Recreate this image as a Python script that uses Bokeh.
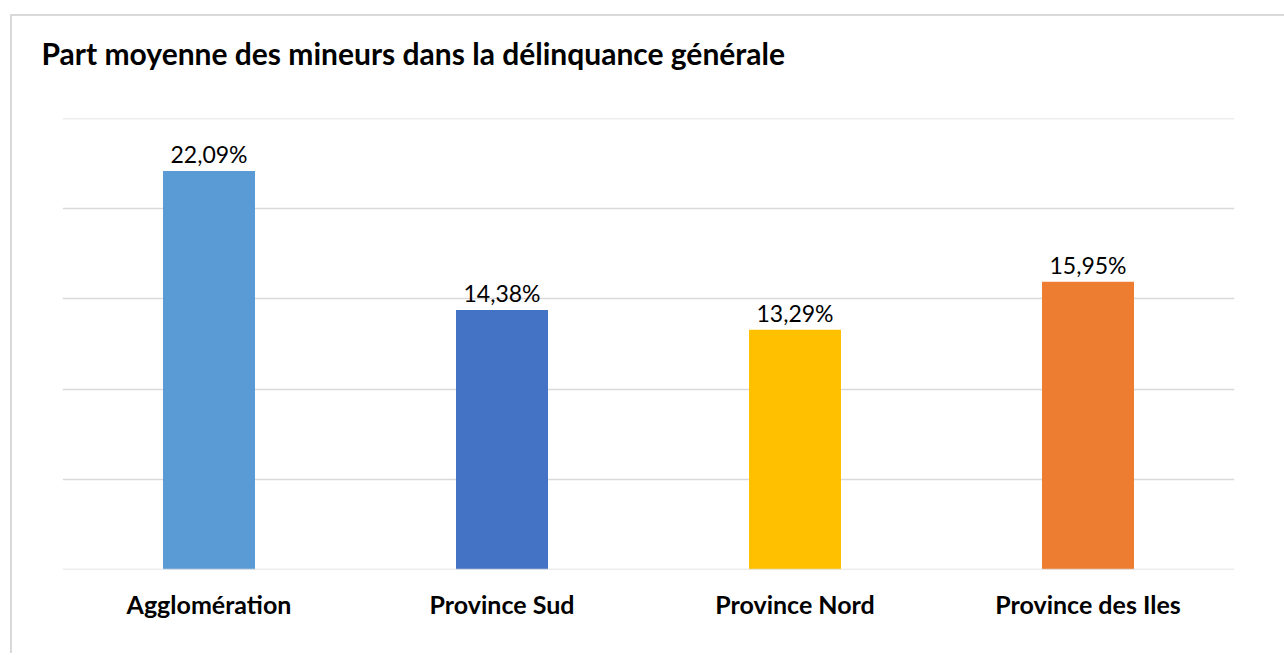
from bokeh.plotting import figure
from bokeh.models import ColumnDataSource, Range1d, FactorRange, Span, SingleIntervalTicker, LabelSet, Title
from bokeh.core.properties import value
from bokeh.embed import file_html
from bokeh.resources import INLINE

categories = ["Agglomération", "Province Sud", "Province Nord", "Province des Iles"]
values = [22.09, 14.38, 13.29, 15.95]
labels = ["22,09%", "14,38%", "13,29%", "15,95%"]
colors = ["#5B9BD5", "#4472C4", "#FFC000", "#ED7D31"]
title_text = "Part moyenne des mineurs dans la délinquance générale"
y_max = 25
grid_step = 5

src = ColumnDataSource(dict(cat=categories, val=values, lab=labels, col=colors))

W, H = 1274, 639
p = figure(width=W, height=H, x_range=FactorRange(*categories, range_padding=0),
           y_range=Range1d(0, y_max), output_backend="svg", toolbar_location=None,
           min_border_left=50, min_border_right=52, min_border_top=102, min_border_bottom=86,
           title=title_text)
p.x_range.factor_padding = 0
p.outline_line_color = None
p.background_fill_color = "white"
p.border_fill_color = "white"
p.styles = {"margin-left": "10px", "margin-top": "14px",
            "border-left": "2px solid #D9D9D9", "border-top": "2px solid #D9D9D9"}

p.title.text_font = "Lato"
p.title.text_font_style = "bold"
p.title.text_font_size = "30px"
p.title.text_color = "#000000"
p.title.align = "left"
p.title.offset = -21
p.title.standoff = 0

# empty spacer between title and plot area
p.add_layout(Title(text=" ", text_font_size="1px", standoff=45), "above")

p.vbar(x="cat", top="val", width=0.314, fill_color="col", line_color=None, source=src)
p.add_layout(LabelSet(x="cat", y="val", text="lab", source=src, text_align="center",
                      text_baseline="alphabetic", y_offset=8, text_font=value("Lato"),
                      text_font_size=value("23px"), text_color="#000000"))

p.yaxis.visible = False
p.ygrid.ticker = SingleIntervalTicker(interval=grid_step)
p.ygrid.grid_line_color = "#D9D9D9"
p.ygrid.grid_line_width = 1.5
p.xgrid.visible = False
p.add_layout(Span(location=0, dimension="width", line_color="#D9D9D9", line_width=1.5))
p.add_layout(Span(location=y_max, dimension="width", line_color="#D9D9D9", line_width=1.5))

ax = p.xaxis[0]
ax.axis_line_color = None
ax.major_tick_line_color = None
ax.minor_tick_line_color = None
ax.major_label_standoff = 13
ax.major_label_text_font = "Lato"
ax.major_label_text_font_style = "bold"
ax.major_label_text_font_size = "25px"
ax.major_label_text_color = "#000000"

open("out.html", "w").write(file_html(p, INLINE))
